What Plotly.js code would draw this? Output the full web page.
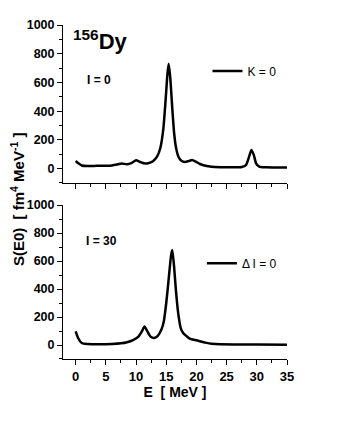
<!DOCTYPE html>
<html>
<head>
<meta charset="utf-8">
<script src="https://cdn.plot.ly/plotly-3.0.1.min.js"></script>
<style>html,body{margin:0;padding:0;background:#fff;}#chart{width:337px;height:436px;}</style>
</head>
<body>
<div id="chart"></div>
<script>
// Top panel: I = 0, K = 0
const energyTop = [0,0.5,1.0,2,3,4,5,6,7,7.6,8.5,9.3,10.0,10.6,11.3,12,12.8,13.5,14.0,14.5,14.9,15.2,15.4,15.65,16.0,16.3,16.6,17.0,17.5,18.1,18.7,19.3,19.9,20.6,21.5,22.5,24,26,27.5,28.2,28.7,29.1,29.5,29.9,30.4,31.5,33,35];
const strengthTop = [53,35,22,18,19,20,20,22,30,36,30,40,58,48,37,38,52,85,140,270,480,660,730,640,420,250,150,85,55,46,52,60,48,32,20,13,10,9,11,25,80,130,95,35,14,9,8,7];
// Bottom panel: I = 30, ΔI = 0
const energyBottom = [0,0.4,1.0,2,4,6,7.5,8.5,9.5,10.4,11.0,11.4,11.9,12.4,13.0,13.6,14.2,14.6,15.0,15.4,15.8,16.0,16.3,16.6,17.0,17.4,17.8,18.4,18.9,20.3,21.5,22.5,24,27,30,35];
const strengthBottom = [97,50,14,7,5,7,12,20,35,60,100,132,95,60,50,65,110,170,300,470,640,678,560,390,220,120,85,62,45,30,17,9,5,4,3,2];
const seriesNames = ["K = 0", "\u0394 I = 0"];
const panelLabels = ["I = 0", "I = 30"];
const nucleus = "<sup>156</sup>Dy";
const xTitle = "E  [ MeV ]";
const yTitle = "S(E0)  [ fm<sup>4</sup> MeV<sup>-1</sup> ]";

const FONT = "Arial, 'Liberation Sans', sans-serif";

const traces = [
  {x: energyTop, y: strengthTop, xaxis: 'x', yaxis: 'y', type: 'scatter', mode: 'lines',
   name: seriesNames[0], legend: 'legend',
   line: {color: '#000', width: 2.5, shape: 'spline', smoothing: 0.6}},
  {x: energyBottom, y: strengthBottom, xaxis: 'x2', yaxis: 'y2', type: 'scatter', mode: 'lines',
   name: seriesNames[1], legend: 'legend2',
   line: {color: '#000', width: 2.5, shape: 'spline', smoothing: 0.6}}
];

const yAxisBase = {
  range: [-100, 1000], tickmode: 'linear', tick0: 0, dtick: 200,
  ticks: 'outside', ticklen: 5, tickwidth: 1, tickcolor: '#000',
  minor: {dtick: 100, ticks: 'outside', ticklen: 3, tickwidth: 1, tickcolor: '#000', showgrid: false},
  showline: true, linecolor: '#000', linewidth: 1, showgrid: false, zeroline: false,
  tickfont: {family: FONT, size: 12.5, color: '#000', weight: 'bold'}
};
const xAxisBase = {
  range: [-2.1, 35], tickmode: 'linear', tick0: 0, dtick: 5,
  ticks: 'outside', ticklen: 5, tickwidth: 1, tickcolor: '#000',
  minor: {dtick: 2.5, ticks: 'outside', ticklen: 3, tickwidth: 1, tickcolor: '#000', showgrid: false},
  showline: true, linecolor: '#000', linewidth: 1, showgrid: false, zeroline: false,
  tickfont: {family: FONT, size: 13, color: '#000', weight: 'bold'}
};

const layout = {
  width: 337, height: 436,
  margin: {l: 63, r: 50, t: 25, b: 77},
  paper_bgcolor: '#fff', plot_bgcolor: '#fff',
  font: {family: FONT, color: '#000'},
  showlegend: true,
  xaxis: Object.assign({}, xAxisBase, {domain: [0, 1], anchor: 'y', showticklabels: false}),
  yaxis: Object.assign({}, yAxisBase, {domain: [0.527, 1], anchor: 'x'}),
  xaxis2: Object.assign({}, xAxisBase, {domain: [0, 1], anchor: 'y2',
    title: {text: xTitle, font: {family: FONT, size: 14, color: '#000', weight: 'bold'}, standoff: 2}}),
  yaxis2: Object.assign({}, yAxisBase, {domain: [0, 0.461], anchor: 'x2'}),
  legend: {x: 0.645, y: 0.862, xanchor: 'left', yanchor: 'middle', bgcolor: 'rgba(0,0,0,0)',
    font: {family: FONT, size: 12, color: '#000'}, itemwidth: 30},
  legend2: {x: 0.62, y: 0.287, xanchor: 'left', yanchor: 'middle', bgcolor: 'rgba(0,0,0,0)',
    font: {family: FONT, size: 12, color: '#000'}, itemwidth: 30},
  annotations: [
    {text: nucleus, xref: 'paper', yref: 'paper', x: 0.037, y: 0.955, xanchor: 'left', yanchor: 'middle',
     showarrow: false, font: {family: FONT, size: 22, color: '#000', weight: 'bold'}},
    {text: panelLabels[0], xref: 'paper', yref: 'paper', x: 0.16, y: 0.835, xanchor: 'center', yanchor: 'middle',
     showarrow: false, font: {family: FONT, size: 12, color: '#000', weight: 'bold'}},
    {text: panelLabels[1], xref: 'paper', yref: 'paper', x: 0.17, y: 0.353, xanchor: 'center', yanchor: 'middle',
     showarrow: false, font: {family: FONT, size: 12, color: '#000', weight: 'bold'}},
    {text: yTitle, xref: 'paper', yref: 'paper', x: -0.205, y: 0.479, xanchor: 'center', yanchor: 'middle',
     textangle: -90, showarrow: false, font: {family: FONT, size: 15, color: '#000', weight: 'bold'}}
  ]
};

Plotly.newPlot('chart', traces, layout, {displayModeBar: false, staticPlot: true});
</script>
</body>
</html>
